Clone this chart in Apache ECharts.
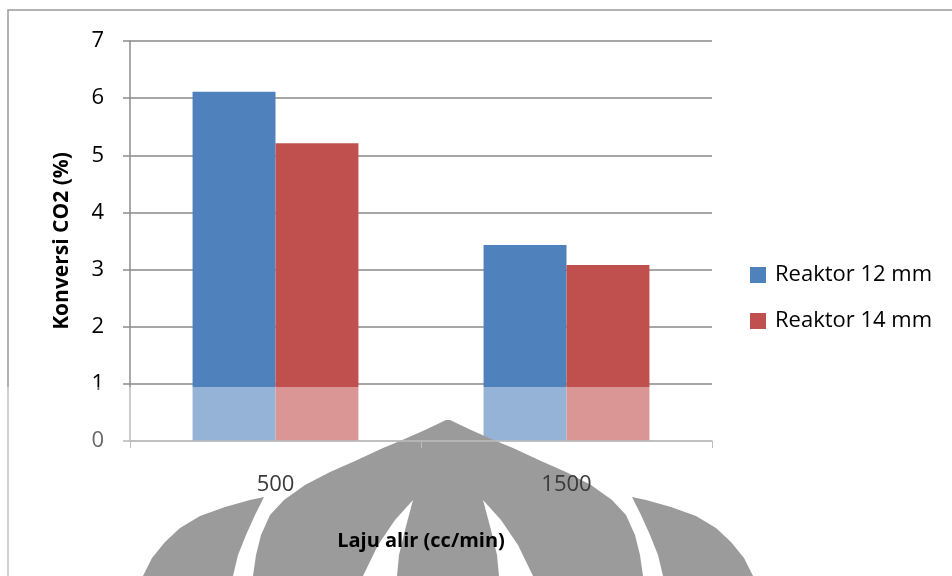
<!DOCTYPE html>
<html>
<head>
<meta charset="utf-8">
<script src="https://cdn.jsdelivr.net/npm/echarts@6/dist/echarts.min.js"></script>
<style>html,body{margin:0;padding:0;background:#fff}#c{width:952px;height:576px}</style>
</head>
<body>
<div id="c"></div>
<script>
var categories = ['500', '1500'];
var seriesNames = ['Reaktor 12 mm', 'Reaktor 14 mm'];
var reaktor12 = [6.11, 3.43];
var reaktor14 = [5.21, 3.08];
var yTicks = [0, 1, 2, 3, 4, 5, 6, 7];

var FONT = '"Open Sans", "Liberation Sans", sans-serif';
var chart = echarts.init(document.getElementById('c'));

// watermark decoration (scanned document logo)
function mirror(pts, cx) { return pts.map(function (p) { return [2 * cx - p[0], p[1]]; }); }
var cx = 448;
var centralLeft = [[446,420],[425,430],[400,441],[383,448],[355,461],[330,472],[305,485],[284,500],[270,515],[261,535],[256,555],[253,576]];
var central = centralLeft.concat(mirror(centralLeft, cx).reverse());
var leftShape = [[264,497],[255,515],[246,535],[238,555],[233,576],[143,576],[152,558],[165,542],[180,528],[200,516],[225,507],[250,500]];
var leftWedge = [[413,500],[395,520],[378,545],[363,576],[397,576],[399,555],[405,530]];

var gfx = [
  {type:'rect', shape:{x:8, y:10, width:1000, height:700}, style:{fill:'none', stroke:'#9a9a9a', lineWidth:1.5}, z:0, silent:true},
  {type:'rect', shape:{x:0, y:387, width:952, height:189}, style:{fill:'rgba(255,255,255,0.4)'}, z:10, silent:true},
  {type:'polygon', shape:{points:central}, style:{fill:'#9b9b9b'}, z:11, silent:true},
  {type:'polygon', shape:{points:leftShape}, style:{fill:'#9b9b9b'}, z:11, silent:true},
  {type:'polygon', shape:{points:mirror(leftShape, cx)}, style:{fill:'#9b9b9b'}, z:11, silent:true},
  {type:'polygon', shape:{points:leftWedge}, style:{fill:'#ffffff'}, z:12, silent:true},
  {type:'polygon', shape:{points:mirror(leftWedge, cx)}, style:{fill:'#ffffff'}, z:12, silent:true}
];

chart.setOption({
  animation: false,
  backgroundColor: '#ffffff',
  textStyle: {fontFamily: FONT},
  graphic: {elements: gfx},
  legend: {
    orient: 'vertical',
    left: 745, top: 259,
    itemWidth: 16, itemHeight: 16, itemGap: 24,
    icon: 'rect',
    textStyle: {fontFamily: FONT, fontSize: 22, color: '#000', padding: [0, 0, 0, 4]},
    data: seriesNames
  },
  grid: {left: 130, right: 240, top: 41, bottom: 135, containLabel: false},
  xAxis: {
    type: 'category',
    data: categories,
    z: 20,
    name: 'Laju alir (cc/min)',
    nameLocation: 'middle',
    nameGap: 90,
    nameTextStyle: {fontFamily: FONT, fontSize: 20, fontWeight: 'bold', color: '#000'},
    axisLine: {lineStyle: {color: '#bdbdbd', width: 1.5}},
    axisTick: {show: true, length: 7, lineStyle: {color: '#bdbdbd'}},
    axisLabel: {margin: 33, fontFamily: FONT, fontSize: 22, color: '#3a3a3a'}
  },
  yAxis: {
    type: 'value',
    min: yTicks[0], max: yTicks[yTicks.length - 1], interval: 1,
    name: 'Konversi CO2 (%)',
    nameLocation: 'middle',
    nameGap: 57,
    nameTextStyle: {fontFamily: FONT, fontSize: 21, fontWeight: 'bold', color: '#000'},
    axisLine: {show: true, lineStyle: {color: '#8c8c8c', width: 1.5}},
    axisTick: {show: true, length: 7, lineStyle: {color: '#8c8c8c', width: 1.5}},
    splitLine: {lineStyle: {color: '#888888', width: 1.5}},
    axisLabel: {margin: 26, fontFamily: FONT, fontSize: 22, color: '#000'}
  },
  series: [
    {name: seriesNames[0], type: 'bar', data: reaktor12, barGap: '0%', barCategoryGap: '43%', itemStyle: {color: '#4f81bd'}},
    {name: seriesNames[1], type: 'bar', data: reaktor14, barGap: '0%', barCategoryGap: '43%', itemStyle: {color: '#c0504d'}}
  ]
});
</script>
</body>
</html>
